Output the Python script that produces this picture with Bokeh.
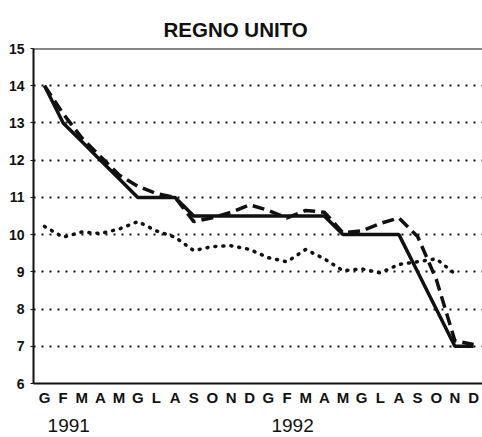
from bokeh.plotting import figure
from bokeh.models import LinearAxis, FixedTicker, Range1d, Span, Grid
from bokeh.embed import file_html
from bokeh.resources import INLINE

# ---- data ----
month_labels = ["G", "F", "M", "A", "M", "G", "L", "A", "S", "O", "N", "D"]
years = ["1991", "1992"]
year_start = [0, 12]
tick_labels = month_labels * len(years)
months = list(range(len(tick_labels)))

official_rate = [14, 13, 12.5, 12, 11.5, 11, 11, 11, 10.5, 10.5, 10.5, 10.5,
                 10.5, 10.5, 10.5, 10.5, 10, 10, 10, 10, 9, 8, 7, 7]
market_rate = [14.0, 13.25, 12.6, 12.1, 11.6, 11.3, 11.1, 11.0, 10.35, 10.45, 10.6, 10.8,
               10.65, 10.45, 10.65, 10.6, 10.05, 10.1, 10.3, 10.45, 9.95, 8.8, 7.15, 7.05]
third_series = [10.22, 9.93, 10.07, 10.03, 10.15, 10.35, 10.1, 9.93, 9.57, 9.68, 9.7, 9.6,
                9.38, 9.27, 9.6, 9.35, 9.03, 9.08, 8.97, 9.2, 9.27, 9.35, 8.95]

y_min, y_max = 6, 15
y_ticks = list(range(y_min, y_max + 1))

FONT = "Liberation Sans"
INK = "#111111"

p = figure(width=482, height=437, output_backend="svg", toolbar_location=None,
           x_range=Range1d(-0.59, 23.48), y_range=Range1d(y_min, y_max),
           min_border_left=33, min_border_right=0, min_border_top=48,
           min_border_bottom=54, x_axis_type=None, y_axis_type=None)
p.outline_line_color = None
p.background_fill_color = "white"
p.border_fill_color = "white"

p.title.text = "REGNO UNITO"
p.title.text_font = FONT
p.title.text_font_style = "bold"
p.title.text_font_size = "20.5px"
p.title.text_color = INK
p.title.align = "left"
p.title.offset = 130
p.title.standoff = 15

# y axis
yax = LinearAxis(ticker=FixedTicker(ticks=y_ticks))
yax.axis_line_width = 2
yax.axis_line_color = INK
yax.major_tick_out = 3
yax.major_tick_in = 0
yax.major_tick_line_color = INK
yax.minor_tick_line_color = None
yax.major_label_text_font = FONT
yax.major_label_text_font_style = "bold"
yax.major_label_text_font_size = "14px"
yax.major_label_text_color = INK
yax.major_label_standoff = 6
p.add_layout(yax, "left")

# x axis (months)
xax = LinearAxis(ticker=FixedTicker(ticks=months),
                 major_label_overrides={m: t for m, t in zip(months, tick_labels)})
xax.axis_line_width = 2
xax.axis_line_color = INK
xax.major_tick_line_color = None
xax.minor_tick_line_color = None
xax.major_label_text_font = FONT
xax.major_label_text_font_style = "bold"
xax.major_label_text_font_size = "15px"
xax.major_label_text_color = INK
xax.major_label_standoff = -1
p.add_layout(xax, "below")

# year axis
year_pos = [s + 1.3 for s in year_start]
yrax = LinearAxis(ticker=FixedTicker(ticks=year_pos),
                  major_label_overrides={pos: y for pos, y in zip(year_pos, years)})
yrax.axis_line_color = None
yrax.major_tick_line_color = None
yrax.minor_tick_line_color = None
yrax.major_label_text_font = FONT
yrax.major_label_text_font_size = "19px"
yrax.major_label_text_color = INK
yrax.major_label_standoff = 4
p.add_layout(yrax, "below")

# grid
grid = Grid(dimension=1, ticker=FixedTicker(ticks=y_ticks[1:-1]))
grid.grid_line_color = INK
grid.grid_line_width = 2
grid.grid_line_dash = "2 6"
p.add_layout(grid, "center")

p.add_layout(Span(location=y_max, dimension="width", line_color=INK, line_width=2))

# series
p.line(months[:len(third_series)], third_series, line_color=INK, line_width=3.5,
       line_dash="1 7", line_cap="round")
p.line(months, market_rate, line_color=INK, line_width=3.5, line_dash="12 6")
p.line(months, official_rate, line_color=INK, line_width=3.5)

open("out.html", "w").write(file_html(p, INLINE))
